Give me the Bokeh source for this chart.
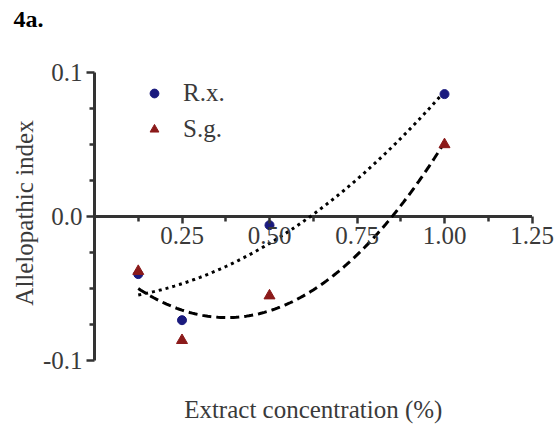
import numpy as np
from bokeh.plotting import figure
from bokeh.models import Range1d, FixedTicker, PrintfTickFormatter, Label
from bokeh.embed import file_html
from bokeh.resources import INLINE

# ---- data ----
concentration = [0.125, 0.25, 0.5, 1.0]
rx_index = [-0.040, -0.072, -0.006, 0.085]
sg_index = [-0.038, -0.086, -0.055, 0.050]
x_ticks = [0.25, 0.5, 0.75, 1.0, 1.25]
x_minor = [0.125, 0.375, 0.625, 0.875, 1.125]
y_ticks = [-0.1, 0.0, 0.1]
y_minor = [-0.075, -0.05, -0.025, 0.025, 0.05, 0.075]

FONT = "Liberation Serif"
TEXT = "#3a3a3a"
AXIS = "#333333"
FS = "25px"

W, H = 558, 425
X0_PX, Y0_PX = 94, 216          # where the axes cross (pixels from top-left)
PX_X, PX_Y = 350.0, 1440.0      # pixels per data unit

# the frame covers the whole page; axes sit at x = 0 and y = 0 inside it
p = figure(width=W, height=H, output_backend="svg", toolbar_location=None,
           x_range=Range1d(-X0_PX / PX_X, (W - X0_PX) / PX_X),
           y_range=Range1d(-(H - Y0_PX) / PX_Y, Y0_PX / PX_Y),
           min_border=0)
p.outline_line_color = None
p.xgrid.visible = False
p.ygrid.visible = False
p.background_fill_color = "white"
p.border_fill_color = "white"

xa = p.xaxis[0]
xa.fixed_location = 0
xa.ticker = FixedTicker(ticks=x_ticks, minor_ticks=x_minor)
xa.formatter = PrintfTickFormatter(format="%.2f")
ya = p.yaxis[0]
ya.fixed_location = 0
ya.ticker = FixedTicker(ticks=y_ticks, minor_ticks=y_minor)
ya.formatter = PrintfTickFormatter(format="%.1f")
ya.axis_label = "Allelopathic index"
ya.axis_label_text_font = FONT
ya.axis_label_text_font_size = FS
ya.axis_label_text_font_style = "normal"
ya.axis_label_text_color = TEXT
ya.axis_label_standoff = 2
for ax in (xa, ya):
    ax.axis_line_color = None
    ax.major_tick_line_color = AXIS
    ax.minor_tick_line_color = AXIS
    ax.major_tick_line_width = 2.5
    ax.minor_tick_line_width = 2.5
    ax.major_tick_in = 0
    ax.minor_tick_in = 0
    ax.major_label_text_font = FONT
    ax.major_label_text_font_size = FS
    ax.major_label_text_color = TEXT
xa.major_tick_out = 7
xa.minor_tick_out = 5
xa.major_label_standoff = 3
ya.major_tick_out = 8
ya.minor_tick_out = 5
ya.major_label_standoff = 4

# axis lines, ending at the outer ticks
p.segment(x0=[0, 0], x1=[max(x_ticks), 0], y0=[0, min(y_ticks)], y1=[0, max(y_ticks)],
          line_color=AXIS, line_width=3)

# quadratic trend lines fitted to the data
xs = np.linspace(min(concentration), max(concentration), 120)
rx_fit = np.polyval(np.polyfit(concentration, rx_index, 2), xs)
sg_fit = np.polyval(np.polyfit(concentration, sg_index, 2), xs)
p.line(xs, rx_fit, line_color="black", line_width=3, line_dash="3 4")
p.line(xs, sg_fit, line_color="black", line_width=3, line_dash="9 5")

p.scatter(concentration, rx_index, marker="circle", size=9, color="#1a1a7e",
          legend_label="R.x.")
p.scatter(concentration, sg_index, marker="triangle", size=11, color="#8b1a1a",
          legend_label="S.g.")

lg = p.legend[0]
lg.location = (143, 282)
lg.border_line_color = None
lg.background_fill_alpha = 0
lg.padding = 0
lg.margin = 0
lg.spacing = 8
lg.glyph_width = 22
lg.glyph_height = 24
lg.label_height = 24
lg.label_standoff = 18
lg.label_text_font = FONT
lg.label_text_font_size = FS
lg.label_text_color = TEXT

p.add_layout(Label(x=max(x_ticks) / 2, y=(Y0_PX - 409) / PX_Y,
                   text="Extract concentration (%)", text_align="center",
                   text_baseline="alphabetic", text_font=FONT, text_font_size=FS,
                   text_color=TEXT))
p.add_layout(Label(x=(13 - X0_PX) / PX_X, y=(Y0_PX - 18) / PX_Y, text="4a.",
                   text_align="left", text_baseline="alphabetic", text_font=FONT,
                   text_font_size="24px", text_font_style="bold", text_color="black"))

open("out.html", "w").write(file_html(p, INLINE))
